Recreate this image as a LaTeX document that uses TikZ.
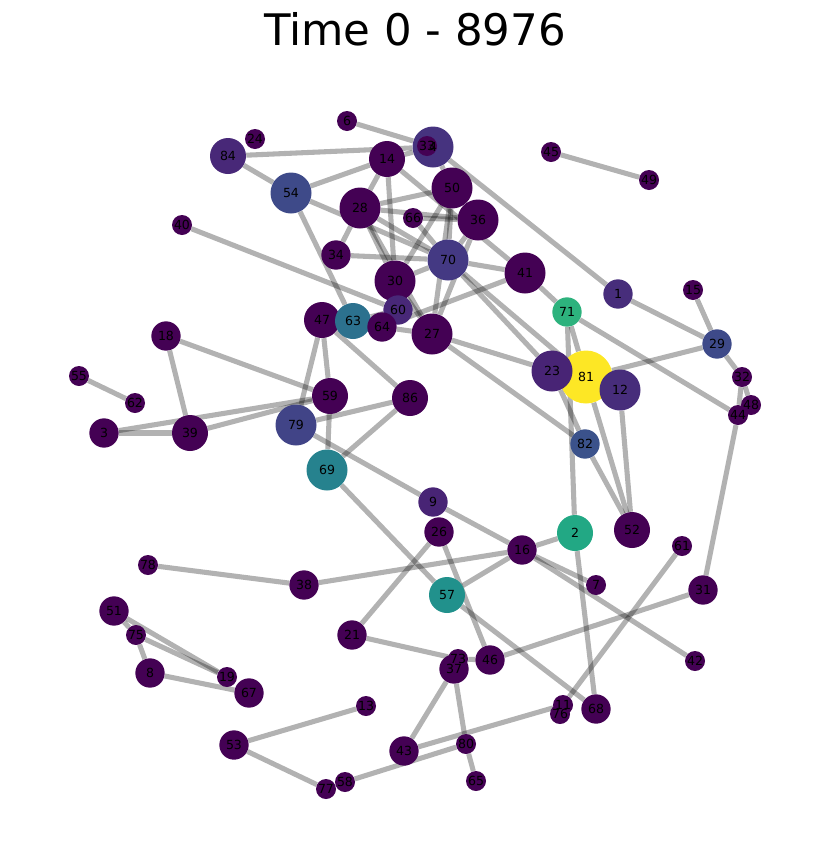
\documentclass[tikz,border=0pt]{standalone}
\usepackage{fontspec}
\setmainfont{DejaVu Sans}
\usetikzlibrary{backgrounds}
\definecolor{vd}{HTML}{440154}
\definecolor{vpa}{HTML}{482475}
\definecolor{vpb}{HTML}{482878}
\definecolor{vpc}{HTML}{472D7B}
\definecolor{vpd}{HTML}{46337F}
\definecolor{vba}{HTML}{443983}
\definecolor{vbb}{HTML}{414487}
\definecolor{vbc}{HTML}{3E4A89}
\definecolor{vbd}{HTML}{3B528B}
\definecolor{vta}{HTML}{2C718E}
\definecolor{vtb}{HTML}{26828E}
\definecolor{vtc}{HTML}{21918C}
\definecolor{vga}{HTML}{22A884}
\definecolor{vgb}{HTML}{2DB27D}
\definecolor{vy}{HTML}{FDE725}
\tikzset{
  nd/.style={circle, inner sep=0pt},
  sa/.style={nd, minimum size=15pt},
  sb/.style={nd, minimum size=22pt},
  sc/.style={nd, minimum size=27pt},
  sd/.style={nd, minimum size=30.75pt},
  se/.style={nd, minimum size=39.75pt},
  link/.style={draw=black, draw opacity=0.3, line width=3.8pt},
  lbl/.style={font=\fontsize{9.4}{10}\selectfont, inner sep=0pt}
}

\begin{document}
\begin{tikzpicture}[x=0.75pt, y=-0.75pt]
    \useasboundingbox(0, 0) rectangle (830, 868);
    \node[anchor=base, font=\fontsize{32.6}{36}\selectfont](title) at (415, 45){Time 0 - 8976};
    \node[sa, fill=vd](n6) at (347, 121){};
    \node[sa, fill=vd](n24) at (255, 139){};
    \node[sc, fill=vpb](n84) at (228, 156){};
    \node[sd, fill=vpd](n4) at (433, 147){};
    \node[sa, fill=vd](n33) at (427, 146){};
    \node[sc, fill=vd](n14) at (387, 159){};
    \node[sa, fill=vd](n45) at (551, 152){};
    \node[sa, fill=vd](n49) at (649, 180){};
    \node[sd, fill=vbc](n54) at (291, 193){};
    \node[sd, fill=vd](n50) at (452, 188){};
    \node[sd, fill=vd](n28) at (360, 208){};
    \node[sa, fill=vd](n66) at (413, 218){};
    \node[sd, fill=vd](n36) at (478, 220){};
    \node[sa, fill=vd](n40) at (182, 225){};
    \node[sb, fill=vd](n34) at (336, 255){};
    \node[sd, fill=vba](n70) at (448, 260){};
    \node[sd, fill=vd](n41) at (525, 273){};
    \node[sd, fill=vd](n30) at (395, 281){};
    \node[sb, fill=vpc](n1) at (618, 294){};
    \node[sa, fill=vd](n15) at (693, 290){};
    \node[sb, fill=vgb](n71) at (567, 312){};
    \node[sb, fill=vpb](n60) at (398, 310){};
    \node[sc, fill=vd](n47) at (322, 320){};
    \node[sc, fill=vta](n63) at (353, 321){};
    \node[sb, fill=vd](n64) at (382, 327){};
    \node[sd, fill=vd](n27) at (432, 334){};
    \node[sb, fill=vd](n18) at (166, 336){};
    \node[sb, fill=vbc](n29) at (717, 344){};
    \node[se, fill=vy](n81) at (586, 377){};
    \node[sd, fill=vpa](n23) at (552, 371){};
    \node[sd, fill=vpc](n12) at (620, 390){};
    \node[sa, fill=vd](n32) at (742, 377){};
    \node[sa, fill=vd](n48) at (751, 405){};
    \node[sa, fill=vd](n44) at (738, 415){};
    \node[sa, fill=vd](n55) at (79, 376){};
    \node[sa, fill=vd](n62) at (135, 403){};
    \node[sc, fill=vd](n59) at (330, 396){};
    \node[sc, fill=vd](n86) at (410, 398){};
    \node[sb, fill=vd](n3) at (104, 433){};
    \node[sc, fill=vd](n39) at (190, 433){};
    \node[sd, fill=vbb](n79) at (296, 425){};
    \node[sb, fill=vbd](n82) at (585, 444){};
    \node[sd, fill=vtb](n69) at (327, 470){};
    \node[sb, fill=vpa](n9) at (433, 502){};
    \node[sb, fill=vd](n26) at (439, 532){};
    \node[sc, fill=vga](n2) at (575, 533){};
    \node[sc, fill=vd](n52) at (632, 530){};
    \node[sb, fill=vd](n16) at (522, 550){};
    \node[sa, fill=vd](n61) at (682, 546){};
    \node[sa, fill=vd](n78) at (148, 565){};
    \node[sb, fill=vd](n38) at (304, 585){};
    \node[sa, fill=vd](n7) at (596, 585){};
    \node[sc, fill=vtc](n57) at (447, 595){};
    \node[sb, fill=vd](n31) at (703, 590){};
    \node[sb, fill=vd](n51) at (114, 611){};
    \node[sa, fill=vd](n75) at (136, 635){};
    \node[sb, fill=vd](n21) at (352, 635){};
    \node[sa, fill=vd](n73) at (458, 659){};
    \node[sb, fill=vd](n37) at (454, 669){};
    \node[sb, fill=vd](n46) at (490, 660){};
    \node[sa, fill=vd](n42) at (695, 661){};
    \node[sb, fill=vd](n8) at (150, 673){};
    \node[sa, fill=vd](n19) at (227, 677){};
    \node[sb, fill=vd](n67) at (249, 693){};
    \node[sa, fill=vd](n13) at (366, 706){};
    \node[sa, fill=vd](n11) at (563, 705){};
    \node[sa, fill=vd](n76) at (560, 714){};
    \node[sb, fill=vd](n68) at (596, 709){};
    \node[sb, fill=vd](n53) at (234, 745){};
    \node[sb, fill=vd](n43) at (404, 751){};
    \node[sa, fill=vd](n80) at (466, 744){};
    \node[sa, fill=vd](n58) at (345, 782){};
    \node[sa, fill=vd](n77) at (326, 789){};
    \node[sa, fill=vd](n65) at (476, 781){};
    \foreach \n in {6,24,84,4,33,14,45,49,54,50,28,66,36,40,34,70,41,30,1,15,71,60,47,63,64,27,18,29,81,23,12,32,48,44,55,62,59,86,3,39,79,82,69,9,26,2,52,16,61,78,38,7,57,31,51,75,21,73,37,46,42,8,19,67,13,11,76,68,53,43,80,58,77,65}
        \node[lbl](t\n) at (n\n){\n};
    \begin{scope}[on background layer]
    \draw[link](n6)--(n4);
    \draw[link](n84)--(n4);
    \draw[link](n84)--(n54);
    \draw[link](n54)--(n14);
    \draw[link](n54)--(n70);
    \draw[link](n54)--(n63);
    \draw[link](n40)--(n60);
    \draw[link](n14)--(n4);
    \draw[link](n14)--(n28);
    \draw[link](n14)--(n30);
    \draw[link](n14)--(n41);
    \draw[link](n4)--(n1);
    \draw[link](n4)--(n50);
    \draw[link](n45)--(n49);
    \draw[link](n28)--(n50);
    \draw[link](n28)--(n36);
    \draw[link](n28)--(n34);
    \draw[link](n28)--(n30);
    \draw[link](n28)--(n27);
    \draw[link](n28)--(n70);
    \draw[link](n66)--(n70);
    \draw[link](n66)--(n36);
    \draw[link](n50)--(n70);
    \draw[link](n50)--(n30);
    \draw[link](n50)--(n27);
    \draw[link](n36)--(n70);
    \draw[link](n36)--(n27);
    \draw[link](n70)--(n34);
    \draw[link](n70)--(n30);
    \draw[link](n70)--(n41);
    \draw[link](n70)--(n23);
    \draw[link](n70)--(n81);
    \draw[link](n30)--(n60);
    \draw[link](n30)--(n27);
    \draw[link](n63)--(n60);
    \draw[link](n41)--(n64);
    \draw[link](n64)--(n27);
    \draw[link](n41)--(n71);
    \draw[link](n27)--(n23);
    \draw[link](n27)--(n82);
    \draw[link](n47)--(n59);
    \draw[link](n47)--(n79);
    \draw[link](n47)--(n86);
    \draw[link](n18)--(n59);
    \draw[link](n18)--(n39);
    \draw[link](n55)--(n62);
    \draw[link](n3)--(n39);
    \draw[link](n3)--(n59);
    \draw[link](n39)--(n59);
    \draw[link](n79)--(n86);
    \draw[link](n86)--(n69);
    \draw[link](n59)--(n69);
    \draw[link](n79)--(n9);
    \draw[link](n9)--(n16);
    \draw[link](n69)--(n57);
    \draw[link](n26)--(n21);
    \draw[link](n26)--(n46);
    \draw[link](n16)--(n2);
    \draw[link](n16)--(n57);
    \draw[link](n16)--(n38);
    \draw[link](n16)--(n7);
    \draw[link](n16)--(n42);
    \draw[link](n57)--(n68);
    \draw[link](n2)--(n68);
    \draw[link](n71)--(n2);
    \draw[link](n71)--(n81);
    \draw[link](n31)--(n46);
    \draw[link](n31)--(n44);
    \draw[link](n71)--(n44);
    \draw[link](n61)--(n11);
    \draw[link](n11)--(n43);
    \draw[link](n80)--(n58);
    \draw[link](n53)--(n77);
    \draw[link](n53)--(n13);
    \draw[link](n37)--(n43);
    \draw[link](n37)--(n80);
    \draw[link](n80)--(n65);
    \draw[link](n21)--(n73);
    \draw[link](n73)--(n46);
    \draw[link](n51)--(n75);
    \draw[link](n75)--(n8);
    \draw[link](n51)--(n19);
    \draw[link](n75)--(n19);
    \draw[link](n8)--(n67);
    \draw[link](n78)--(n38);
    \draw[link](n15)--(n29);
    \draw[link](n1)--(n29);
    \draw[link](n29)--(n81);
    \draw[link](n29)--(n32);
    \draw[link](n32)--(n48);
    \draw[link](n32)--(n44);
    \draw[link](n81)--(n52);
    \draw[link](n12)--(n52);
    \draw[link](n23)--(n82);
    \draw[link](n82)--(n52);
    \end{scope}
\end{tikzpicture}
\end{document}
